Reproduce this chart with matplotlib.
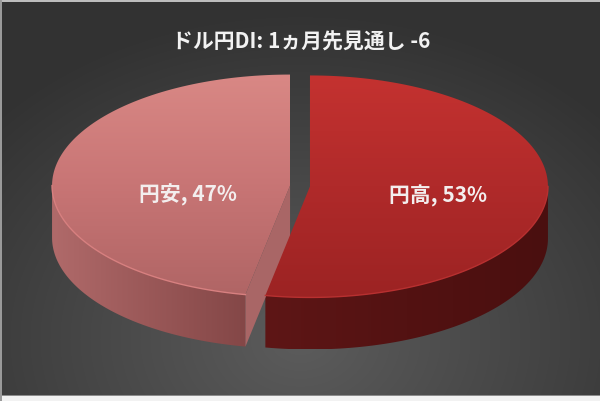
import numpy as np
import matplotlib
matplotlib.use('Agg')
import matplotlib.pyplot as plt
from matplotlib.patches import Polygon, Rectangle
from matplotlib.colors import LinearSegmentedColormap

plt.rcParams['font.family'] = ['Noto Sans CJK JP', 'DejaVu Sans']

# data
title = 'ドル円DI: 1ヵ月先見通し -6'
labels = ['円高', '円安']
shares = [53, 47]

# styles
top_colors = [['#c43230', '#b02a2a', '#9c2323'], ['#d98885', '#c87575', '#b06565']]
wall_colors = [['#4a0f0f', '#531212', '#5e1616'], ['#b06a6a', '#9a5858', '#844747']]
cut_color = '#a96666'

# geometry of the fake 3d pie (pixels)
cx, cy = 300, 187
a, b = 238, 111
depth = 52
explode = 10
label_r = [0.54, 0.43]


def pt(x0, y0, t, dy=0):
    r = np.radians(t)
    return x0 + a * np.sin(r), y0 - b * np.cos(r) + dy


def arc(x0, y0, t0, t1, dy=0, n=120):
    ts = np.linspace(t0, t1, n)
    return [pt(x0, y0, t, dy) for t in ts]


def grad_fill(ax, verts, cols, horiz=False, z=1):
    verts = np.array(verts)
    patch = Polygon(verts, closed=True, facecolor='none', edgecolor='none', zorder=z)
    ax.add_patch(patch)
    x0, y0 = verts.min(axis=0)
    x1, y1 = verts.max(axis=0)
    cmap = LinearSegmentedColormap.from_list('g', cols)
    g = np.linspace(0, 1, 256)
    img = g[None, :] if horiz else g[:, None]
    im = ax.imshow(img, cmap=cmap, extent=(x0, x1, y1, y0), origin='upper',
                   aspect='auto', interpolation='bilinear', zorder=z)
    im.set_clip_path(patch)
    return patch


fig = plt.figure(figsize=(6, 4.02), dpi=100)
ax = fig.add_axes([0, 0, 1, 1])
ax.axis('off')

# background radial gradient
yy, xx = np.mgrid[0:402, 0:600]
dist = np.sqrt(((xx - 300) / 420.0) ** 2 + ((yy - 340) / 330.0) ** 2)
dist = np.clip(dist, 0, 1)
c_in = np.array([0x5c, 0x5c, 0x5c]) / 255.0
c_out = np.array([0x32, 0x32, 0x32]) / 255.0
bg = c_in[None, None, :] * (1 - dist[..., None]) + c_out[None, None, :] * dist[..., None]
ax.imshow(bg, extent=(0, 600, 402, 0), origin='upper', aspect='auto', zorder=0)

# slices
total = float(sum(shares))
start = 0.0
slices = []
for i, s in enumerate(shares):
    t0 = start
    t1 = start + s / total * 360.0
    mid = (t0 + t1) / 2
    ox = cx + explode * np.sin(np.radians(mid))
    oy = cy - explode * np.cos(np.radians(mid)) * b / a
    slices.append((t0, t1, mid, ox, oy))
    start = t1

# walls (front half only) and cut faces
for i, (t0, t1, mid, ox, oy) in enumerate(slices):
    wa, wb = max(t0, 90), min(t1, 270)
    if wa < wb:
        top = arc(ox, oy, wa, wb)
        bot = arc(ox, oy, wa, wb, dy=depth)[::-1]
        grad_fill(ax, top + bot, wall_colors[i][::-1] if i == 0 else wall_colors[i],
                  horiz=True, z=2)
    # visible cut face of the second slice (its starting edge faces the viewer)
    if i == 1:
        rim = pt(ox, oy, t0)
        face = [(ox, oy), rim, (rim[0], rim[1] + depth), (ox, oy + depth)]
        ax.add_patch(Polygon(face, closed=True, facecolor=cut_color,
                             edgecolor='none', zorder=3))

# top faces
for i, (t0, t1, mid, ox, oy) in enumerate(slices):
    verts = [(ox, oy)] + arc(ox, oy, t0, t1)
    grad_fill(ax, verts, top_colors[i], z=4)
    fa, fb = max(t0, 90), min(t1, 270)
    if fa < fb:
        rim = np.array(arc(ox, oy, fa, fb))
        edge = '#d88080' if i == 1 else '#b83030'
        ax.plot(rim[:, 0], rim[:, 1], color=edge, lw=1.0, zorder=5)

# labels
for i, (t0, t1, mid, ox, oy) in enumerate(slices):
    lx = ox + label_r[i] * a * np.sin(np.radians(mid))
    ly = oy + 8
    ax.text(lx, ly, f'{labels[i]}, {shares[i]}%', color='#f3eeee', fontsize=15,
            fontweight='bold', ha='center', va='center', zorder=6)

ax.text(301, 42, title, color='#f2f2f2', fontsize=15, fontweight='bold',
        ha='center', va='center', zorder=6)

# frame bits
ax.add_patch(Rectangle((0, 0), 600, 2.5, facecolor='#bdbdbd', edgecolor='none', zorder=7))
ax.add_patch(Rectangle((0, 397), 600, 5, facecolor='#f2f2f2', edgecolor='none', zorder=7))
ax.add_patch(Rectangle((0, 396), 600, 1.2, facecolor='#8c8c8c', edgecolor='none', zorder=7))
ax.add_patch(Rectangle((0, 0), 1.5, 402, facecolor='#9a9a9a', edgecolor='none', zorder=7))

ax.set_xlim(0, 600)
ax.set_ylim(402, 0)
fig.savefig('out.png', dpi=100)
